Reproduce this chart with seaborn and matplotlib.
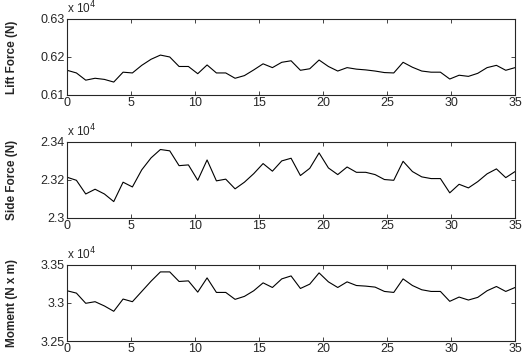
import numpy as np
import pandas as pd
import matplotlib
matplotlib.use("Agg")
import matplotlib.pyplot as plt
import seaborn as sns

# sample times (49 samples over 0-35)
t = np.linspace(0, 35, 49)

# values in units of 10^4 N / 10^4 N*m
lift = [0.6165, 0.6158, 0.6139, 0.6144, 0.6141, 0.6134, 0.6160, 0.6158, 0.6178, 0.6194,
        0.6205, 0.6200, 0.6175, 0.6175, 0.6156, 0.6179, 0.6158, 0.6158, 0.6144, 0.6151,
        0.6166, 0.6182, 0.6172, 0.6186, 0.6190, 0.6165, 0.6169, 0.6192, 0.6175, 0.6163,
        0.6172, 0.6168, 0.6166, 0.6163, 0.6159, 0.6158, 0.6186, 0.6173, 0.6163, 0.6160,
        0.6160, 0.6142, 0.6152, 0.6149, 0.6157, 0.6172, 0.6178, 0.6165, 0.6172]
side = [2.3214, 2.3198, 2.3126, 2.3151, 2.3126, 2.3086, 2.3188, 2.3163, 2.3253, 2.3316,
        2.3360, 2.3353, 2.3275, 2.3279, 2.3198, 2.3305, 2.3195, 2.3204, 2.3153, 2.3188,
        2.3233, 2.3286, 2.3246, 2.3300, 2.3314, 2.3223, 2.3261, 2.3342, 2.3263, 2.3228,
        2.3268, 2.3240, 2.3240, 2.3228, 2.3202, 2.3198, 2.3298, 2.3244, 2.3216, 2.3207,
        2.3207, 2.3132, 2.3177, 2.3158, 2.3191, 2.3232, 2.3258, 2.3212, 2.3244]
moment = [3.3161, 3.3130, 3.2996, 3.3017, 3.2961, 3.2891, 3.3052, 3.3017, 3.3152, 3.3287,
          3.3409, 3.3409, 3.3283, 3.3291, 3.3143, 3.3330, 3.3139, 3.3139, 3.3048, 3.3087,
          3.3161, 3.3265, 3.3204, 3.3317, 3.3356, 3.3191, 3.3248, 3.3396, 3.3278, 3.3204,
          3.3278, 3.3230, 3.3222, 3.3209, 3.3152, 3.3139, 3.3317, 3.3230, 3.3174, 3.3152,
          3.3152, 3.3022, 3.3078, 3.3039, 3.3074, 3.3161, 3.3217, 3.3152, 3.3204]

labels = ["Lift Force (N)", "Side Force (N)", "Moment (N x m)"]
ylims = [(0.61, 0.63), (2.30, 2.34), (3.25, 3.35)]
yticks = [[0.61, 0.62, 0.63], [2.30, 2.32, 2.34], [3.25, 3.30, 3.35]]
yticklabels = [["0.61", "0.62", "0.63"], ["2.3", "2.32", "2.34"], ["3.25", "3.3", "3.35"]]
xticks = [0, 5, 10, 15, 20, 25, 30, 35]

sns.set_style("ticks")
plt.rcParams['font.family'] = ['Liberation Sans', 'DejaVu Sans']
plt.rcParams['xtick.direction'] = 'in'
plt.rcParams['ytick.direction'] = 'in'
plt.rcParams['xtick.top'] = True
plt.rcParams['ytick.right'] = True

fig = plt.figure(figsize=(5.24, 3.62), dpi=100)
bottoms = [0.7376, 0.398, 0.058]
height = 0.21

for i, y in enumerate([lift, side, moment]):
    ax = fig.add_axes([0.128, bottoms[i], 0.855, height])
    df = pd.DataFrame({"t": t, "v": y})
    sns.lineplot(data=df, x="t", y="v", ax=ax, color="black", linewidth=0.8)
    ax.set_xlim(0, 35)
    ax.set_ylim(*ylims[i])
    ax.set_xticks(xticks)
    ax.set_xticklabels([str(v) for v in xticks])
    ax.set_yticks(yticks[i])
    ax.set_yticklabels(yticklabels[i])
    ax.tick_params(labelsize=9, length=3, width=0.6, pad=1.5)
    for s in ax.spines.values():
        s.set_linewidth(0.8)
    ax.set_xlabel("")
    ax.set_ylabel(labels[i], fontsize=8.5, fontweight="bold")
    ax.yaxis.set_label_coords(-0.11, 0.5)
    ax.text(0.0, 1.04, "x 10$^4$", transform=ax.transAxes, fontsize=8.5,
            ha="left", va="bottom")

fig.savefig("out.png", dpi=100)
